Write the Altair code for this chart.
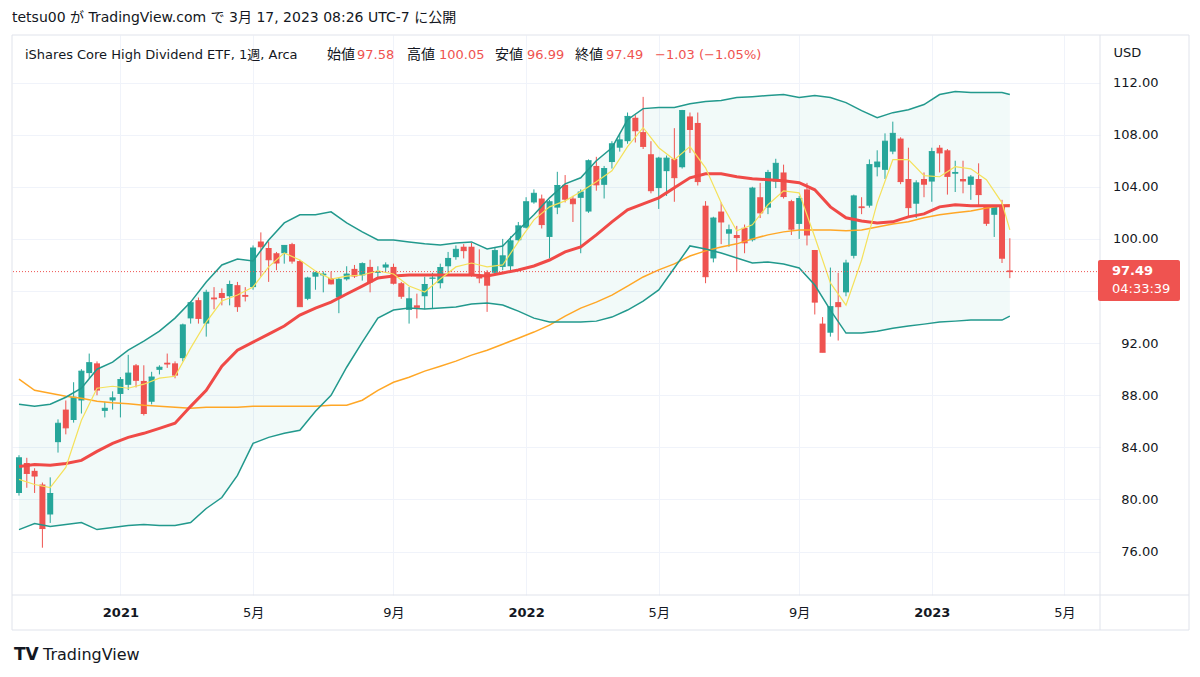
import altair as alt
import pandas as pd

# ---------------- data ----------------
FIRST_BAR = "2020-10-05"   # Monday of the first weekly bar

OPEN = [80.5, 82.8, 82.2, 81.15, 78.85, 84.4, 86.9, 86.1, 87.6, 89.7,
        90.45, 86.8, 87.6, 88.1, 88.8, 90.3, 89.1, 87.5, 89.95, 90.5,
        90.45, 90.85, 93.9, 95.3, 93.5, 95.5, 95.85, 95.6, 96.45, 95.7,
        96.3, 99.8, 99.3, 98.9, 98.9, 99.6, 98.3, 95.4, 97.1, 97.2,
        97.0, 95.5, 96.9, 97.7, 97.2, 97.85, 97.4, 97.8, 97.85, 96.6,
        94.55, 94.9, 95.6, 96.95, 96.6, 97.9, 98.6, 99.4, 99.4, 97.1,
        97.45, 97.4, 97.85, 97.9, 99.9, 100.85, 102.8, 103.1, 100.15, 102.4,
        104.15, 103.1, 103.15, 102.1, 105.6, 104.15, 105.9, 107.0, 107.5, 109.3,
        108.2, 106.5, 103.9, 105.2, 106.15, 105.5, 109.4, 108.9, 102.55, 98.5,
        102.1, 100.4, 100.3, 100.85, 99.9, 103.2, 102.4, 104.4, 105.1, 102.9,
        101.15, 103.8, 99.15, 93.5, 92.8, 95.15, 95.9, 98.7, 102.5, 102.55,
        105.5, 105.3, 106.7, 107.7, 104.6, 102.7, 104.6, 104.4, 107.0, 106.8,
        105.0, 104.6, 104.15, 104.6, 102.5, 101.85, 102.5, 97.58]

HIGH = [83.4, 83.2, 82.4, 81.3, 81.7, 86.15, 87.6, 89.0, 90.0, 91.2,
        90.6, 87.5, 88.3, 89.4, 91.1, 90.4, 90.3, 89.8, 90.3, 91.2,
        90.6, 93.5, 95.2, 95.5, 96.1, 96.3, 96.2, 96.8, 96.7, 96.3,
        99.5, 100.5, 99.8, 99.0, 99.5, 99.7, 98.4, 97.1, 97.5, 97.5,
        97.5, 97.0, 97.9, 98.0, 98.2, 98.4, 97.9, 98.2, 98.1, 96.7,
        96.3, 95.8, 97.1, 97.4, 98.1, 99.0, 99.5, 99.6, 99.7, 99.2,
        97.6, 99.3, 100.0, 100.2, 101.3, 103.2, 103.8, 103.4, 103.0, 105.15,
        104.9, 103.3, 103.8, 106.1, 106.3, 105.6, 107.5, 108.1, 109.7, 109.5,
        110.9, 107.5, 106.3, 106.4, 108.5, 109.9, 109.7, 109.7, 102.9, 101.7,
        102.8, 101.1, 101.0, 101.1, 104.0, 104.3, 105.3, 106.15, 105.7, 103.0,
        103.3, 104.3, 99.15, 94.0, 97.8, 97.4, 98.4, 103.4, 103.2, 106.1,
        106.8, 108.1, 109.0, 107.8, 107.0, 104.5, 105.1, 107.0, 107.2, 106.9,
        106.0, 106.0, 104.9, 105.8, 102.6, 102.5, 103.0, 100.05]

LOW = [80.3, 80.9, 80.5, 76.3, 78.2, 83.6, 85.0, 85.9, 86.6, 89.3,
       88.0, 86.3, 86.9, 86.3, 88.4, 88.6, 86.45, 87.3, 89.6, 90.1,
       89.3, 90.6, 93.5, 93.5, 92.5, 94.6, 94.9, 94.9, 94.4, 95.2,
       96.1, 97.1, 96.7, 97.6, 98.1, 98.1, 94.8, 95.3, 96.1, 95.9,
       96.5, 94.3, 96.8, 97.0, 96.8, 95.9, 96.9, 97.5, 96.5, 95.4,
       93.5, 93.9, 94.6, 94.7, 96.2, 97.2, 98.4, 98.5, 97.1, 96.6,
       94.4, 97.3, 97.6, 97.4, 99.8, 100.8, 102.7, 100.8, 98.5, 101.9,
       102.8, 101.3, 98.9, 102.0, 103.7, 103.1, 105.4, 106.7, 107.3, 107.4,
       106.9, 103.5, 102.3, 103.3, 102.85, 105.4, 106.6, 104.1, 96.6, 98.2,
       99.6, 99.4, 97.5, 98.9, 99.8, 101.6, 101.9, 103.9, 103.1, 100.3,
       100.0, 99.5, 94.2, 91.3, 92.5, 92.2, 95.6, 98.5, 101.9, 102.4,
       104.8, 104.6, 106.5, 104.2, 101.7, 101.6, 103.2, 102.85, 105.1, 103.4,
       103.6, 103.5, 103.0, 102.5, 101.0, 100.15, 98.15, 96.99]

CLOSE = [83.2, 82.0, 81.8, 77.77, 80.46, 85.85, 85.5, 87.85, 89.85, 90.5,
         88.4, 87.0, 87.8, 89.2, 89.7, 89.15, 86.6, 89.4, 90.15, 90.4,
         89.55, 93.4, 95.1, 93.9, 95.9, 95.4, 95.5, 96.5, 94.8, 95.6,
         99.3, 99.4, 98.4, 98.15, 99.5, 98.3, 94.8, 97.0, 97.4, 97.3,
         96.55, 96.9, 97.3, 97.15, 98.1, 96.7, 97.5, 98.0, 96.6, 95.6,
         95.4, 94.75, 96.5, 97.0, 97.8, 98.5, 99.2, 99.1, 97.2, 97.0,
         96.45, 99.1, 98.7, 99.85, 101.0, 102.85, 103.5, 101.1, 102.85, 104.1,
         103.05, 102.7, 103.6, 106.0, 104.15, 105.4, 107.3, 107.6, 109.4, 108.3,
         107.1, 103.7, 106.2, 106.2, 104.7, 109.85, 108.4, 104.4, 97.1, 101.6,
         101.3, 100.7, 100.1, 99.7, 103.9, 102.0, 105.1, 105.8, 103.25, 100.75,
         103.1, 100.3, 95.15, 91.3, 94.8, 94.8, 98.15, 103.3, 102.4, 105.7,
         105.9, 107.5, 108.1, 104.4, 102.4, 104.3, 104.2, 106.7, 106.6, 104.8,
         105.1, 104.45, 104.75, 103.4, 101.2, 102.5, 98.52, 97.49]

# indicator readings, sampled at these bar numbers
IND_BARS = [0, 2, 4, 6, 8, 10, 12, 14, 16, 18, 20, 22, 24, 26, 28, 30,
            32, 34, 36, 38, 40, 42, 44, 46, 48, 50, 52, 54, 56, 58, 60, 62,
            64, 66, 68, 70, 72, 74, 76, 78, 80, 82, 84, 86, 88, 90, 92, 94,
            96, 98, 100, 102, 104, 106, 108, 110, 112, 114, 116, 118, 120,
            122, 124, 126, 127]

BB_UPPER = [87.31, 87.15, 87.31, 87.85, 88.54, 90.0, 90.54, 91.46, 92.15, 92.92,
            93.92, 95.15, 96.69, 98.0, 98.46, 98.31, 99.92, 101.23, 101.85, 101.85,
            102.08, 101.23, 100.54, 99.92, 99.92, 99.77, 99.62, 99.54, 99.69, 99.77,
            99.23, 99.46, 100.69, 101.85, 103.15, 104.23, 104.69, 106.0, 107.0, 109.15,
            110.0, 110.08, 110.08, 110.38, 110.54, 110.62, 110.85, 110.92, 111.0, 111.08,
            110.85, 111.0, 110.85, 110.46, 109.85, 109.31, 109.69, 109.92, 110.31, 111.08,
            111.31, 111.23, 111.23, 111.23, 111.08]

BB_LOWER = [77.69, 78.15, 77.92, 78.08, 78.23, 77.69, 77.85, 78.0, 78.08, 78.0,
            78.0, 78.23, 79.31, 80.15, 81.85, 84.31, 84.77, 85.08, 85.31, 86.77,
            88.0, 90.15, 92.08, 93.92, 94.54, 94.69, 94.62, 94.69, 94.77, 95.0,
            95.08, 94.92, 94.46, 93.92, 93.62, 93.62, 93.62, 93.69, 94.0, 94.54,
            95.23, 96.08, 97.77, 99.46, 99.23, 98.92, 98.54, 98.15, 98.23, 98.08,
            97.77, 96.46, 94.54, 92.77, 92.77, 92.92, 93.15, 93.31, 93.46, 93.62,
            93.69, 93.77, 93.77, 93.77, 94.08]

BB_BASIS = [82.54, 82.69, 82.62, 82.77, 83.0, 83.69, 84.31, 84.77, 85.08, 85.46,
            85.85, 87.15, 88.38, 90.23, 91.46, 92.08, 92.69, 93.31, 94.15, 94.69,
            95.15, 95.77, 96.38, 97.0, 97.15, 97.23, 97.23, 97.23, 97.23, 97.23,
            97.15, 97.38, 97.62, 97.92, 98.38, 99.0, 99.38, 100.31, 101.31, 102.23,
            102.69, 103.15, 103.92, 104.69, 105.0, 105.0, 104.77, 104.62, 104.54, 104.46,
            104.31, 103.77, 102.46, 101.62, 101.38, 101.23, 101.31, 101.69, 101.92, 102.46,
            102.62, 102.54, 102.54, 102.54, 102.54]

MA_LONG = [89.23, 88.38, 88.15, 87.92, 87.77, 87.54, 87.42, 87.35, 87.23, 87.15,
           87.08, 87.0, 87.08, 87.08, 87.08, 87.15, 87.15, 87.15, 87.15, 87.15,
           87.23, 87.23, 87.62, 88.38, 89.0, 89.38, 89.85, 90.23, 90.62, 91.08,
           91.46, 91.92, 92.38, 92.85, 93.38, 94.08, 94.69, 95.15, 95.69, 96.38,
           97.08, 97.62, 98.08, 98.69, 99.08, 99.38, 99.62, 100.0, 100.31, 100.54,
           100.69, 100.69, 100.69, 100.62, 100.69, 100.92, 101.15, 101.31, 101.62, 101.85,
           102.0, 102.15, 102.38, 102.54, 102.62]

MA_SHORT = [81.54, 81.15, 80.92, 82.46, 86.08, 88.54, 88.69, 88.54, 88.85, 89.31,
            89.46, 91.62, 93.62, 95.23, 95.69, 96.31, 97.85, 98.92, 98.38, 97.54,
            96.92, 97.15, 97.23, 97.54, 97.31, 96.38, 95.92, 96.92, 97.85, 98.15,
            97.85, 98.0, 99.77, 101.46, 102.46, 102.92, 103.62, 104.38, 105.23, 107.08,
            108.54, 107.0, 106.08, 107.08, 105.46, 102.77, 100.62, 101.08, 102.62, 103.69,
            103.54, 100.15, 96.62, 94.92, 98.38, 102.77, 106.08, 106.08, 104.85, 104.77,
            105.54, 105.38, 104.54, 102.77, 100.69]

X_TICK_DATES = ["2021-01-04", "2021-05-03", "2021-09-06", "2022-01-03",
                "2022-05-02", "2022-09-05", "2023-01-02", "2023-05-01"]
Y_TICKS = [76, 80, 84, 88, 92, 96, 100, 104, 108, 112]
Y_HIDDEN_TICK = 96          # label hidden behind the last-price box
X_DOMAIN = ["2020-10-03T05:00:00", "2023-05-28T10:00:00"]
Y_DOMAIN = [72.67, 115.65]

HEADER = "tetsu00 が TradingView.com で 3月 17, 2023 08:26 UTC-7 に公開"
SYMBOL = "iShares Core High Dividend ETF, 1週, Arca"
OHLC_LABELS = ["始値", "高値", "安値", "終値"]
COUNTDOWN = "04:33:39"

# ---------------- styling ----------------
FONT = "'DejaVu Sans', 'Noto Sans CJK JP', sans-serif"
CJK = "'Noto Sans CJK JP', sans-serif"
INK = "#131722"
GRID = "#f0f3fa"
BORDER = "#e0e3eb"
GREEN = "#26a69a"
RED = "#ef5350"
W, H = 1088, 560


def ms(s):
    return int(pd.Timestamp(s, tz="UTC").value // 10**6)


WEEK = 7 * 86400000
t0 = ms(FIRST_BAR)

candles = pd.DataFrame({
    "date": [t0 + i * WEEK for i in range(len(CLOSE))],
    "open": OPEN, "high": HIGH, "low": LOW, "close": CLOSE,
})
ind = pd.DataFrame({
    "date": [t0 + i * WEEK for i in IND_BARS],
    "upper": BB_UPPER, "lower": BB_LOWER, "basis": BB_BASIS,
    "ma_long": MA_LONG, "ma_short": MA_SHORT,
})

xscale = alt.Scale(type="utc", domain=[ms(d) for d in X_DOMAIN], nice=False)
yscale = alt.Scale(domain=Y_DOMAIN, zero=False, nice=False)

x_axis = alt.Axis(
    values=[ms(d) for d in X_TICK_DATES],
    labelExpr="utcmonth(datum.value) == 0 ? utcFormat(datum.value, '%Y') : (utcmonth(datum.value) + 1) + '月'",
    grid=True, gridColor=GRID, tickSize=0, domain=False, labelPadding=11,
    labelFontSize=13, labelColor=INK, labelFont=FONT, labelFlush=False,
    labelFontWeight={"condition": {"test": "utcmonth(datum.value) == 0", "value": 600}, "value": 400},
    title="",
)
y_axis = alt.Axis(
    orient="right", values=Y_TICKS,
    labelExpr=f"datum.value == {Y_HIDDEN_TICK} ? '' : format(datum.value, '.2f')",
    grid=True, gridColor=GRID,
    tickSize=0, domain=False, labelAlign="right", labelPadding=58,
    labelBaseline="middle", labelFontSize=13, labelColor=INK, labelFont=FONT,
    title="USD", titleAngle=0, titleAlign="left", titleBaseline="middle",
    titleX=13, titleY=17, titleFontSize=13, titleFontWeight="normal",
    titleColor=INK, titleFont=FONT,
)


def X(f):
    return alt.X(f"{f}:T", scale=xscale, axis=x_axis)


def Y(f):
    return alt.Y(f"{f}:Q", scale=yscale, axis=y_axis)


updown = alt.condition("datum.close >= datum.open", alt.value(GREEN), alt.value(RED))

band = alt.Chart(ind).mark_area(color=GREEN, opacity=0.06).encode(
    x=X("date"), y=Y("upper"), y2="lower")

wicks = alt.Chart(candles).mark_rule(strokeWidth=1).encode(
    x=X("date"), y=Y("low"), y2="high", color=updown)
bodies = alt.Chart(candles).mark_bar(size=6).encode(
    x=X("date"), y=Y("open"), y2="close", color=updown)
doji = alt.Chart(candles).mark_rule(strokeWidth=1, xOffset=-3, x2Offset=3).encode(
    x=X("date"), x2="date", y=Y("close"), color=updown)


def line(field, color, width):
    return alt.Chart(ind).mark_line(color=color, strokeWidth=width).encode(
        x=X("date"), y=Y(field))


last = pd.DataFrame({"p": [CLOSE[-1]]})
last_rule = alt.Chart(last).mark_rule(color=RED, strokeDash=[1, 2], strokeWidth=1).encode(y=Y("p"))


def text(s, x, y, color=INK, size=13, weight="normal", align="left", font=FONT):
    return alt.Chart(pd.DataFrame({"t": [s]})).mark_text(
        align=align, baseline="middle", font=font, fontSize=size,
        fontWeight=weight, color=color).encode(
        x=alt.value(x), y=alt.value(y), text="t:N")


def frame(x1, x2, y1, y2):
    return alt.Chart(pd.DataFrame({"k": [0]})).mark_rule(color=BORDER, strokeWidth=1).encode(
        x=alt.value(x1), x2=alt.value(x2), y=alt.value(y1), y2=alt.value(y2))


chg = CLOSE[-1] - CLOSE[-2]
pct = chg / CLOSE[-2] * 100
chg_txt = f"{chg:+.2f} ({pct:+.2f}%)".replace("-", "−")
ohlc_vals = [OPEN[-1], HIGH[-1], LOW[-1], CLOSE[-1]]
label_x = [315, 395, 483, 563]
value_x = [345, 427, 515, 594]

legend = [text(SYMBOL, 13, 20)]
for lab, lx, val, vx in zip(OHLC_LABELS, label_x, ohlc_vals, value_x):
    legend.append(text(lab, lx, 20, size=14, font=CJK))
    legend.append(text(f"{val:.2f}", vx, 20, color=RED))
legend.append(text(chg_txt, 643, 20, color=RED))

price_box = alt.Chart(pd.DataFrame({"k": [0]})).mark_rect(color=RED, cornerRadius=2).encode(
    x=alt.value(1086), x2=alt.value(1168), y=alt.value(225), y2=alt.value(266))

layers = [
    band,
    wicks, bodies, doji,
    line("ma_long", "#ffa726", 1.5),
    line("basis", "#f04a47", 3),
    line("ma_short", "#f5e15a", 1.2),
    line("upper", "#22998d", 1.5),
    line("lower", "#22998d", 1.5),
    last_rule,
    frame(0, 1177, 0, 0), frame(0, 1177, H, H), frame(0, 1177, 595, 595),
    frame(0, 0, 0, 595), frame(1177, 1177, 0, 595), frame(W, W, 0, 595),
    text(HEADER, 0, -17, size=14),
    *legend,
    price_box,
    text(f"{CLOSE[-1]:.2f}", 1100, 236, color="white", weight="bold"),
    text(COUNTDOWN, 1100, 254, color="white"),
    text("TV", 2, 620, size=17, weight=900),
    text("TradingView", 31, 620, size=16),
]

chart = alt.layer(*layers).properties(
    width=W, height=H,
    padding={"left": 4, "top": 27, "right": 92, "bottom": 74},
    autosize=alt.AutoSizeParams(type="none"),
    background="white",
).configure_view(strokeWidth=0)

chart.save("out.html", embed_options={"renderer": "svg", "actions": False})
